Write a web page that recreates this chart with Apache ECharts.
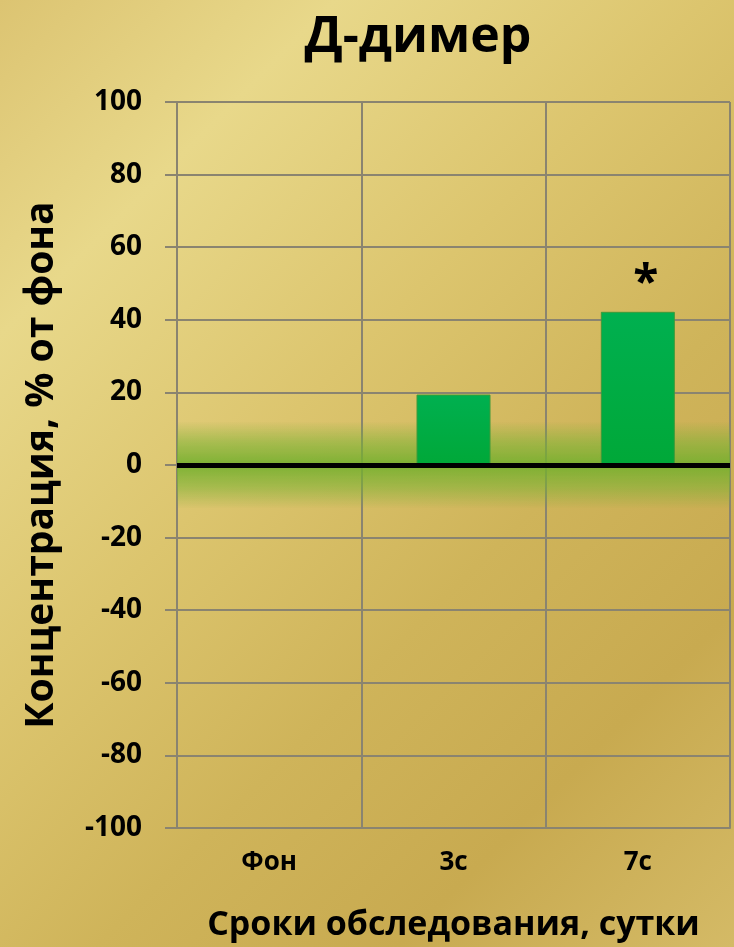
<!DOCTYPE html>
<html>
<head>
<meta charset="utf-8">
<script src="https://cdn.jsdelivr.net/npm/echarts@6/dist/echarts.min.js"></script>
<style>
  html, body { margin: 0; padding: 0; }
  #chart {
    width: 734px; height: 947px;
    background: linear-gradient(135deg, #dcc472 0%, #e8d88a 20%, #dcc56e 42%, #cfb45a 62%, #c8aa50 80%, #d4ba66 100%);
  }
</style>
</head>
<body>
<div id="chart"></div>
<script>
// Д-димер: концентрация относительно фона по срокам обследования
const titleText = 'Д-димер';
const categories = ['Фон', '3с', '7с'];
const values = [0, 19.4, 42.2];
const marks = ['', '', '*'];
const yMin = -100, yMax = 100, yStep = 20;
const yAxisName = 'Концентрация, % от фона';
const xAxisName = 'Сроки обследования, сутки';

const FONT = '"Open Sans", "Noto Sans", sans-serif';
const gridColor = '#8a8470';

const chart = echarts.init(document.getElementById('chart'), null, { renderer: 'canvas' });

const barData = values.map((v, i) => {
  const item = { value: v };
  if (marks[i]) {
    item.label = {
      show: true, position: 'top', formatter: marks[i], distance: 4, offset: [8, 0],
      fontFamily: FONT, fontSize: 46, fontWeight: 'bold', color: '#000'
    };
  }
  return item;
});

chart.setOption({
  animation: false,
  backgroundColor: 'transparent',
  title: {
    text: titleText, left: 413, top: 8, textAlign: 'center',
    textStyle: { fontFamily: FONT, fontSize: 50, fontWeight: 'bold', color: '#000' }
  },
  grid: { left: 177, right: 4, top: 102, bottom: 119, containLabel: false },
  xAxis: {
    type: 'category', data: categories,
    name: xAxisName, nameLocation: 'middle', nameGap: 80,
    nameTextStyle: { fontFamily: FONT, fontSize: 34, fontWeight: 'bold', color: '#000' },
    axisLine: { onZero: false, lineStyle: { color: gridColor, width: 2 } },
    axisTick: { show: false },
    axisLabel: { margin: 22, fontFamily: FONT, fontSize: 26, fontWeight: 'bold', color: '#000' },
    splitLine: { show: true, lineStyle: { color: gridColor, width: 2 } }
  },
  yAxis: {
    type: 'value', min: yMin, max: yMax, interval: yStep,
    name: yAxisName, nameLocation: 'middle', nameGap: 116, nameRotate: 90,
    nameTextStyle: { fontFamily: FONT, fontSize: 39, fontWeight: 'bold', color: '#000' },
    axisLine: { show: true, lineStyle: { color: gridColor, width: 2 } },
    axisTick: { show: true, length: 12, lineStyle: { color: gridColor, width: 2 } },
    axisLabel: { margin: 35, fontFamily: FONT, fontSize: 28, fontWeight: 'bold', color: '#000' },
    splitLine: { show: true, lineStyle: { color: gridColor, width: 2 } }
  },
  series: [{
    type: 'bar',
    data: barData,
    barWidth: 74,
    itemStyle: {
      color: new echarts.graphic.LinearGradient(0, 0, 0, 1, [
        { offset: 0, color: '#00b050' },
        { offset: 1, color: '#00a838' }
      ]),
      borderColor: '#3f9a3a', borderWidth: 1
    },
    z: 3,
    markArea: {
      silent: true,
      itemStyle: {
        color: new echarts.graphic.LinearGradient(0, 0, 0, 1, [
          { offset: 0, color: 'rgba(120,175,50,0)' },
          { offset: 0.25, color: 'rgba(120,178,50,0.55)' },
          { offset: 0.5, color: 'rgba(115,175,45,0.9)' },
          { offset: 0.75, color: 'rgba(120,178,50,0.55)' },
          { offset: 1, color: 'rgba(120,175,50,0)' }
        ])
      },
      data: [[{ yAxis: -12 }, { yAxis: 12 }]]
    },
    markLine: {
      silent: true, symbol: 'none', label: { show: false },
      lineStyle: { color: '#000', width: 5, type: 'solid' },
      data: [{ yAxis: 0 }]
    }
  }]
});
</script>
</body>
</html>
